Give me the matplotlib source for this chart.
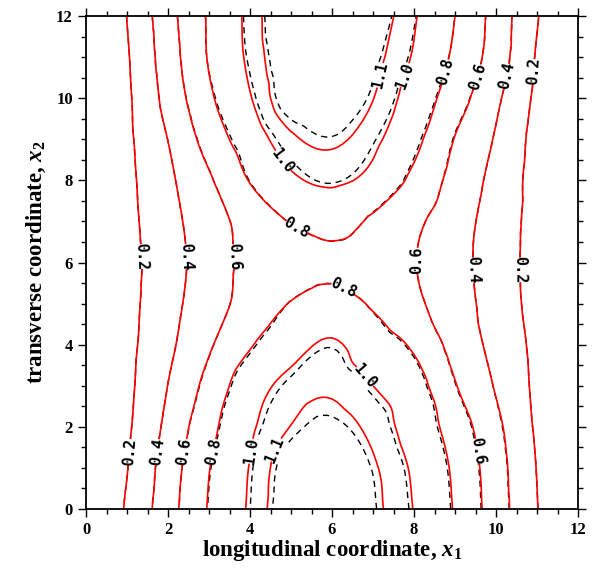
import numpy as np
import matplotlib
matplotlib.use("Agg")
import matplotlib.pyplot as plt
import matplotlib.tri as mtri

plt.rcParams["font.family"] = ["Liberation Serif", "DejaVu Serif"]
plt.rcParams["font.weight"] = "bold"
plt.rcParams["mathtext.fontset"] = "custom"
plt.rcParams["mathtext.rm"] = "Liberation Serif:bold"
plt.rcParams["mathtext.it"] = "Liberation Serif:italic:bold"

# grid nodes (longitudinal x1, transverse x2)
x1_nodes = np.arange(0, 13)
x2_nodes = np.arange(0, 13)
levels = [0.2, 0.4, 0.6, 0.8, 1.0, 1.1]

# field values, one row per transverse node x2 = 0 ... 12
solid_field = np.array([
    [0, 0.220, 0.520, 0.815, 1.020, 1.190, 1.230, 1.130, 0.995, 0.785, 0.500, 0.205, 0],
    [0, 0.194, 0.495, 0.794, 1.007, 1.170, 1.200, 1.115, 0.976, 0.766, 0.485, 0.194, 0],
    [0, 0.173, 0.449, 0.741, 0.974, 1.103, 1.140, 1.070, 0.925, 0.712, 0.447, 0.175, 0],
    [0, 0.159, 0.403, 0.664, 0.920, 1.045, 1.080, 1.000, 0.885, 0.612, 0.384, 0.162, 0],
    [0, 0.150, 0.358, 0.576, 0.784, 0.934, 1.020, 0.898, 0.770, 0.530, 0.342, 0.153, 0],
    [0, 0.143, 0.332, 0.515, 0.675, 0.808, 0.877, 0.779, 0.642, 0.487, 0.315, 0.135, 0],
    [0, 0.136, 0.319, 0.493, 0.658, 0.700, 0.749, 0.690, 0.608, 0.469, 0.305, 0.130, 0],
    [0, 0.148, 0.333, 0.515, 0.676, 0.809, 0.876, 0.770, 0.640, 0.487, 0.315, 0.133, 0],
    [0, 0.155, 0.361, 0.576, 0.810, 0.970, 1.025, 0.950, 0.756, 0.533, 0.343, 0.130, 0],
    [0, 0.164, 0.403, 0.681, 0.908, 1.080, 1.120, 1.035, 0.852, 0.592, 0.383, 0.139, 0],
    [0, 0.171, 0.465, 0.767, 0.991, 1.182, 1.190, 1.103, 0.922, 0.695, 0.436, 0.164, 0],
    [0, 0.184, 0.503, 0.815, 1.030, 1.200, 1.230, 1.138, 0.985, 0.765, 0.508, 0.184, 0],
    [0, 0.203, 0.529, 0.823, 1.040, 1.222, 1.250, 1.170, 1.015, 0.800, 0.526, 0.210, 0],
])

dashed_field = np.array([
    [0, 0.220, 0.520, 0.810, 1.000, 1.165, 1.205, 1.110, 0.980, 0.775, 0.495, 0.205, 0],
    [0, 0.194, 0.495, 0.789, 0.987, 1.145, 1.175, 1.095, 0.961, 0.756, 0.480, 0.194, 0],
    [0, 0.173, 0.449, 0.736, 0.954, 1.078, 1.115, 1.050, 0.910, 0.702, 0.442, 0.175, 0],
    [0, 0.159, 0.403, 0.659, 0.900, 1.020, 1.055, 0.980, 0.870, 0.607, 0.384, 0.162, 0],
    [0, 0.150, 0.358, 0.576, 0.774, 0.914, 0.993, 0.883, 0.765, 0.530, 0.342, 0.153, 0],
    [0, 0.143, 0.332, 0.515, 0.675, 0.808, 0.877, 0.779, 0.642, 0.487, 0.315, 0.135, 0],
    [0, 0.136, 0.319, 0.493, 0.658, 0.700, 0.749, 0.690, 0.608, 0.469, 0.305, 0.130, 0],
    [0, 0.148, 0.333, 0.515, 0.676, 0.809, 0.876, 0.770, 0.640, 0.487, 0.315, 0.133, 0],
    [0, 0.155, 0.361, 0.576, 0.805, 0.950, 1.009, 0.930, 0.751, 0.533, 0.343, 0.130, 0],
    [0, 0.164, 0.403, 0.676, 0.888, 1.045, 1.095, 1.010, 0.837, 0.587, 0.383, 0.139, 0],
    [0, 0.171, 0.465, 0.762, 0.971, 1.152, 1.165, 1.083, 0.912, 0.690, 0.436, 0.164, 0],
    [0, 0.184, 0.503, 0.815, 1.015, 1.175, 1.205, 1.123, 0.975, 0.765, 0.508, 0.184, 0],
    [0, 0.203, 0.529, 0.823, 1.030, 1.202, 1.230, 1.160, 1.010, 0.800, 0.526, 0.210, 0],
])

# where the contour labels sit
label_spots = [
    (7.17, 10.56), (7.78, 10.56), (8.76, 10.65), (9.45, 10.56), (10.18, 10.56), (10.91, 10.65),
    (1.32, 6.14), (2.41, 6.14), (3.59, 6.14), (5.06, 6.71), (4.85, 8.51),
    (6.28, 5.41), (6.80, 3.22),
    (8.11, 6.06), (9.45, 5.82), (10.63, 5.82),
    (1.06, 1.40), (1.74, 1.40), (2.41, 1.40), (3.13, 1.40), (4.07, 1.40), (4.72, 1.40),
    (9.45, 1.40),
]

fig = plt.figure(figsize=(5.92, 5.69), dpi=100)
ax = fig.add_axes([0.1453, 0.1054, 0.8311, 0.8665])

X, Y = np.meshgrid(x1_nodes, x2_nodes)
triang = mtri.Triangulation(X.ravel(), Y.ravel())
refiner = mtri.UniformTriRefiner(triang)


def smooth(field):
    interp = mtri.CubicTriInterpolator(triang, field.ravel(), kind="geom")
    return refiner.refine_field(field.ravel(), triinterpolator=interp, subdiv=3)


tri_d, z_d = smooth(dashed_field)
tri_s, z_s = smooth(solid_field)

cs_dash = ax.tricontour(tri_d, z_d, levels=levels, colors="black",
                        linewidths=1.0, linestyles=[(0, (4.5, 3.5))])
cs_red = ax.tricontour(tri_s, z_s, levels=levels, colors="#ff0000",
                       linewidths=1.2, linestyles="solid")

hidden = ax.clabel(cs_dash, inline=True, fmt="%.1f", manual=label_spots,
                   fontsize=11, inline_spacing=3)
for t in hidden:
    t.set_visible(False)
shown = ax.clabel(cs_red, inline=True, fmt="%.1f", manual=label_spots,
                  fontsize=11, colors="black", inline_spacing=3)
for t in shown:
    t.set_fontfamily("DejaVu Sans Mono")
    t.set_fontweight("bold")

ax.set_xlim(0, 12)
ax.set_ylim(0, 12)
ax.set_xticks(np.arange(0, 13, 2))
ax.set_yticks(np.arange(0, 13, 2))
ax.set_xticks(np.arange(0, 12.01, 0.5), minor=True)
ax.set_yticks(np.arange(0, 12.01, 0.5), minor=True)
ax.tick_params(which="both", direction="out", top=True, right=True,
               labelsize=12, width=1.0)
ax.tick_params(which="major", length=6)
ax.tick_params(which="minor", length=3.5)
for s in ax.spines.values():
    s.set_linewidth(1.3)

ax.set_xlabel(r"longitudinal coordinate, $x_1$", fontsize=16.5, fontweight="bold", labelpad=0)
ax.set_ylabel(r"transverse coordinate, $x_2$", fontsize=16.5, fontweight="bold", labelpad=6)

fig.savefig("out.png", dpi=100)
